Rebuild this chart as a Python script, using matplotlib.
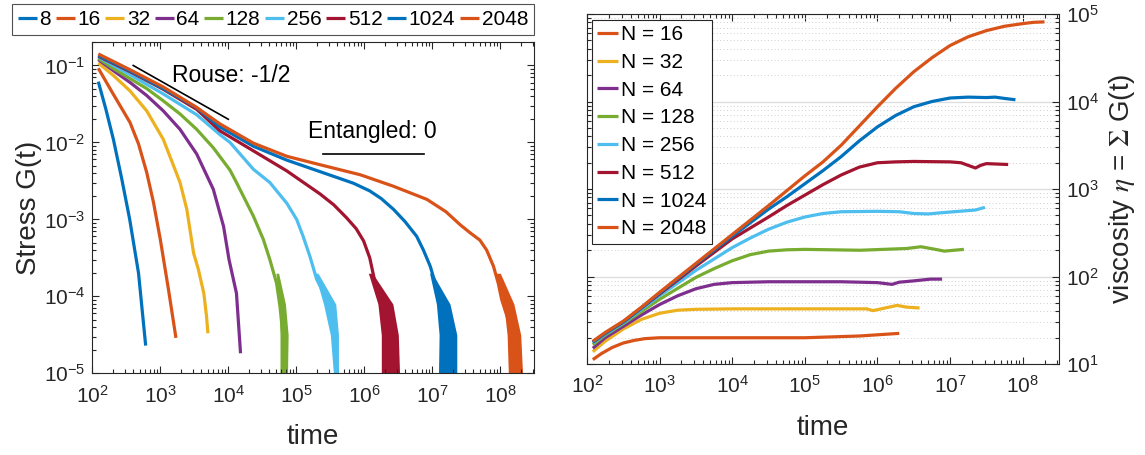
import numpy as np
import matplotlib
matplotlib.use("Agg")
import matplotlib.pyplot as plt
from matplotlib.ticker import LogLocator, NullFormatter

plt.rcParams['font.family'] = ['Liberation Sans', 'DejaVu Sans']
plt.rcParams['mathtext.fontset'] = 'stix'

# MATLAB default colour order
c_blue, c_orange, c_yellow = '#0072BD', '#D95319', '#EDB120'
c_purple, c_green, c_lblue, c_red = '#7E2F8E', '#77AC30', '#4DBEEE', '#A2142F'

chain_lengths = [8, 16, 32, 64, 128, 256, 512, 1024, 2048]
line_colors = [c_blue, c_orange, c_yellow, c_purple, c_green, c_lblue, c_red, c_blue, c_orange]

# ---- stress relaxation G(t), left panel (values read as log10 t, log10 G) ----
lt8 = [2.088, 2.2, 2.31, 2.43, 2.55, 2.68, 2.785]
lg8 = [-1.21, -1.57, -1.96, -2.46, -3.0, -3.70, -4.64]

lt16 = [2.088, 2.3, 2.554, 2.68, 2.80, 2.90, 3.0, 3.12, 3.23]
lg16 = [-1.036, -1.36, -1.74, -2.02, -2.39, -2.78, -3.26, -3.91, -4.54]

lt32 = [2.088, 2.31, 2.554, 2.80, 3.044, 3.29, 3.39, 3.49, 3.56, 3.64, 3.68, 3.70]
lg32 = [-0.967, -1.13, -1.33, -1.59, -1.96, -2.52, -2.87, -3.44, -3.65, -3.96, -4.26, -4.48]

lt64 = [2.088, 2.31, 2.554, 2.80, 3.044, 3.29, 3.535, 3.78, 3.93, 4.01, 4.12, 4.18]
lg64 = [-0.924, -1.068, -1.22, -1.39, -1.59, -1.83, -2.15, -2.61, -3.09, -3.52, -3.96, -4.74]

lt128 = [2.088, 2.31, 2.554, 2.80, 3.044, 3.29, 3.535, 3.78, 4.025, 4.12, 4.37, 4.515,
         4.61, 4.71, 4.76, 4.81, 4.83]
lg128 = [-0.907, -1.04, -1.17, -1.30, -1.46, -1.63, -1.83, -2.07, -2.36, -2.52, -2.96, -3.26,
         -3.52, -3.83, -4.13, -4.57, -5.05]

lt256 = [2.088, 2.554, 3.044, 3.535, 3.878, 4.025, 4.37, 4.61, 4.86, 5.005, 5.10, 5.20,
         5.30, 5.45, 5.57, 5.60]
lg256 = [-0.89, -1.12, -1.37, -1.64, -1.90, -2.0, -2.35, -2.52, -2.79, -3.0, -3.22, -3.48,
         -3.78, -4.04, -4.35, -5.05]

lt512 = [2.088, 2.554, 3.044, 3.535, 3.878, 4.37, 4.86, 5.35, 5.55, 5.74, 5.88, 5.99, 6.08,
         6.18, 6.28, 6.38, 6.45]
lg512 = [-0.88, -1.08, -1.31, -1.57, -1.85, -2.11, -2.37, -2.67, -2.81, -2.98, -3.12, -3.28,
         -3.50, -3.91, -4.13, -4.57, -5.05]

lt1024 = [2.088, 2.554, 3.044, 3.535, 3.878, 4.37, 4.86, 5.35, 5.84, 6.08, 6.25, 6.43, 6.6,
          6.77, 6.87, 6.97, 7.05, 7.11, 7.21, 7.25]
lg1024 = [-0.87, -1.07, -1.30, -1.55, -1.80, -2.05, -2.23, -2.38, -2.53, -2.63, -2.73, -2.87,
          -3.03, -3.22, -3.40, -3.61, -3.85, -4.13, -4.48, -5.05]

lt2048 = [2.088, 2.554, 3.044, 3.535, 3.878, 4.37, 4.86, 5.35, 5.94, 6.43, 6.92, 7.2, 7.41,
          7.55, 7.70, 7.80, 7.90, 7.97, 8.02, 8.15, 8.27]
lg2048 = [-0.85, -1.055, -1.28, -1.545, -1.76, -2.01, -2.18, -2.29, -2.42, -2.57, -2.74, -2.90,
          -3.07, -3.17, -3.27, -3.40, -3.61, -3.83, -4.04, -4.4, -5.05]

# noisy tails: spread of the data at a few stress levels (log10 G, log10 t left/right edge)
tail_chains = [128, 256, 512, 1024, 2048]
tail_lg = [-3.7, -4.1, -4.5, -5.05]
tail_left = [[4.70, 4.75, 4.76, 4.76], [5.27, 5.40, 5.50, 5.55], [6.06, 6.20, 6.25, 6.25],
             [6.96, 7.06, 7.10, 7.09], [7.93, 8.05, 8.10, 8.12]]
tail_right = [[4.74, 4.84, 4.88, 4.87], [5.32, 5.58, 5.62, 5.62], [6.12, 6.42, 6.50, 6.52],
              [7.00, 7.26, 7.36, 7.36], [8.00, 8.20, 8.30, 8.33]]

# guide lines on the left panel
rouse_t = [400, 1.0e4]
rouse_g = [0.1, 0.02]
entangled_t = [2.5e5, 7.5e6]
entangled_g = [7.0e-3, 7.0e-3]

# ---- viscosity eta(t), right panel (values read as log10 t, log10 eta) ----
vt16 = [2.08, 2.2, 2.35, 2.5, 2.65, 2.8, 3.0, 5.0, 5.75, 6.3]
ve16 = [1.05, 1.12, 1.19, 1.24, 1.27, 1.29, 1.30, 1.30, 1.32, 1.35]

vt32 = [2.08, 2.25, 2.5, 2.75, 3.0, 3.25, 3.5, 4.0, 5.85, 5.94, 6.05, 6.27, 6.4, 6.58]
ve32 = [1.14, 1.26, 1.40, 1.51, 1.58, 1.615, 1.625, 1.63, 1.63, 1.61, 1.63, 1.67, 1.65, 1.64]

vt64 = [2.08, 2.25, 2.5, 2.75, 3.0, 3.25, 3.5, 3.75, 4.0, 4.5, 5.5, 6.0, 6.2, 6.3, 6.5, 6.73,
        6.89]
ve64 = [1.18, 1.30, 1.43, 1.56, 1.68, 1.78, 1.86, 1.91, 1.93, 1.94, 1.94, 1.93, 1.91, 1.935,
        1.95, 1.97, 1.97]

vt128 = [2.08, 2.25, 2.5, 3.0, 3.5, 3.75, 4.0, 4.25, 4.5, 4.75, 5.0, 5.76, 6.4, 6.6, 6.8,
         6.92, 7.19]
ve128 = [1.22, 1.33, 1.46, 1.74, 1.99, 2.09, 2.18, 2.25, 2.29, 2.305, 2.31, 2.30, 2.32, 2.34,
         2.31, 2.29, 2.31]

vt256 = [2.08, 2.25, 2.5, 3.0, 3.5, 4.0, 4.25, 4.5, 4.75, 5.0, 5.25, 5.5, 6.0, 6.3, 6.5, 6.7,
         6.9, 7.2, 7.35, 7.48]
ve256 = [1.24, 1.34, 1.47, 1.78, 2.07, 2.33, 2.44, 2.54, 2.62, 2.68, 2.72, 2.74, 2.745, 2.74,
         2.72, 2.715, 2.73, 2.75, 2.76, 2.79]

vt512 = [2.08, 2.25, 2.5, 3.0, 3.5, 4.0, 4.5, 4.75, 5.0, 5.25, 5.5, 5.75, 6.0, 6.25, 6.5,
         7.0, 7.15, 7.25, 7.35, 7.42, 7.5, 7.8]
ve512 = [1.25, 1.35, 1.48, 1.80, 2.12, 2.43, 2.68, 2.81, 2.93, 3.05, 3.16, 3.25, 3.30, 3.31,
         3.315, 3.31, 3.30, 3.27, 3.24, 3.27, 3.29, 3.28]

vt1024 = [2.08, 2.25, 2.5, 2.75, 3.0, 3.5, 4.0, 4.5, 4.75, 5.0, 5.25, 5.5, 5.75, 6.0, 6.25,
          6.5, 6.75, 7.0, 7.25, 7.5, 7.62, 7.75, 7.9]
ve1024 = [1.25, 1.35, 1.48, 1.64, 1.81, 2.14, 2.46, 2.77, 2.91, 3.06, 3.21, 3.37, 3.55, 3.71,
          3.84, 3.94, 4.00, 4.04, 4.05, 4.045, 4.05, 4.035, 4.02]

vt2048 = [2.08, 2.25, 2.5, 2.75, 3.0, 3.5, 4.0, 4.5, 5.0, 5.25, 5.5, 5.75, 6.0, 6.25, 6.5,
          6.75, 7.0, 7.25, 7.5, 7.75, 8.0, 8.15, 8.3]
ve2048 = [1.26, 1.36, 1.49, 1.65, 1.82, 2.15, 2.48, 2.81, 3.15, 3.31, 3.50, 3.72, 3.94, 4.15,
          4.34, 4.50, 4.64, 4.74, 4.81, 4.86, 4.89, 4.905, 4.91]

stress_lt = [lt8, lt16, lt32, lt64, lt128, lt256, lt512, lt1024, lt2048]
stress_lg = [lg8, lg16, lg32, lg64, lg128, lg256, lg512, lg1024, lg2048]
visc_lt = [vt16, vt32, vt64, vt128, vt256, vt512, vt1024, vt2048]
visc_le = [ve16, ve32, ve64, ve128, ve256, ve512, ve1024, ve2048]

ink = '#262626'
W, H = 1145, 455
fig = plt.figure(figsize=(W / 100, H / 100), dpi=100)
ax1 = fig.add_axes([92.3 / W, 1 - 373.3 / H, 442 / W, 331 / H])
ax2 = fig.add_axes([587 / W, 1 - 364 / H, 472 / W, 350 / H])


def style_axis(ax):
    ax.set_xscale('log')
    ax.set_yscale('log')
    ax.set_xlim(100, 10 ** 8.5)
    ax.xaxis.set_major_locator(LogLocator(base=10, numticks=20))
    ax.xaxis.set_minor_locator(LogLocator(base=10, subs=np.arange(2, 10), numticks=20))
    ax.xaxis.set_minor_formatter(NullFormatter())
    ax.yaxis.set_minor_formatter(NullFormatter())
    ax.tick_params(which='both', direction='in', top=True, right=True, color=ink,
                   labelcolor=ink, labelsize=15, width=0.8)
    ax.tick_params(which='major', length=5)
    ax.tick_params(which='minor', length=2.8)
    ax.tick_params(axis='x', which='major', pad=8)
    ax.tick_params(axis='y', which='major', pad=5)
    for s in ax.spines.values():
        s.set_color(ink)
        s.set_linewidth(0.8)
    ax.set_xlabel('time', fontsize=20, color=ink, labelpad=13)


# left panel: stress
style_axis(ax1)
ax1.set_ylim(1e-5, 0.2)
for n, c, lt, lg in zip(chain_lengths, line_colors, stress_lt, stress_lg):
    ax1.plot(10 ** np.array(lt), 10 ** np.array(lg), color=c, lw=2.3, label=str(n),
             solid_capstyle='butt')
for n, lo, hi in zip(tail_chains, tail_left, tail_right):
    c = line_colors[chain_lengths.index(n)]
    ax1.fill_betweenx(10 ** np.array(tail_lg), 10 ** np.array(lo), 10 ** np.array(hi),
                      color=c, lw=0)
ax1.plot(rouse_t, rouse_g, color='black', lw=1.2)
ax1.plot(entangled_t, entangled_g, color='black', lw=1.2)
ax1.text(1.47e3, 0.074, 'Rouse: -1/2', fontsize=16.5, ha='left', va='center')
ax1.text(1.48e5, 0.0138, 'Entangled: 0', fontsize=16.5, ha='left', va='center')
ax1.set_ylabel('Stress G(t)', fontsize=20, color=ink, labelpad=1)
leg1 = ax1.legend(loc='upper center', bbox_to_anchor=(273 / W, 0.992),
                  bbox_transform=fig.transFigure, ncol=9, fontsize=15,
                  handlelength=0.92, handletextpad=0.12, columnspacing=0.22,
                  borderpad=0.3, borderaxespad=0, frameon=True, fancybox=False)
leg1.get_frame().set_edgecolor(ink)
leg1.get_frame().set_linewidth(0.8)

# right panel: viscosity
style_axis(ax2)
ax2.set_ylim(10, 1e5)
ax2.set_axisbelow(True)
ax2.yaxis.grid(True, which='major', color='#dcdcdc', lw=0.9)
ax2.yaxis.grid(True, which='minor', color='#cfcfcf', lw=0.7, ls=(0, (1, 2.5)))
for n, c, lt, le in zip(chain_lengths[1:], line_colors[1:], visc_lt, visc_le):
    ax2.plot(10 ** np.array(lt), 10 ** np.array(le), color=c, lw=2.3, label='N = %d' % n,
             solid_capstyle='butt')
ax2.tick_params(which='both', labelleft=False, labelright=True)
ax2.yaxis.set_label_position('right')
ax2.set_ylabel(r'viscosity $\eta$ = $\Sigma$ G(t)', fontsize=20, color=ink, labelpad=6)
leg2 = ax2.legend(loc='upper left', bbox_to_anchor=(0.011, 0.983), fontsize=15,
                  handlelength=1.0, handletextpad=0.15, labelspacing=0.42,
                  borderpad=0.25, borderaxespad=0, frameon=True, fancybox=False)
leg2.get_frame().set_edgecolor(ink)
leg2.get_frame().set_linewidth(0.8)
leg2.get_frame().set_alpha(1)

fig.savefig('out.png', dpi=100)
